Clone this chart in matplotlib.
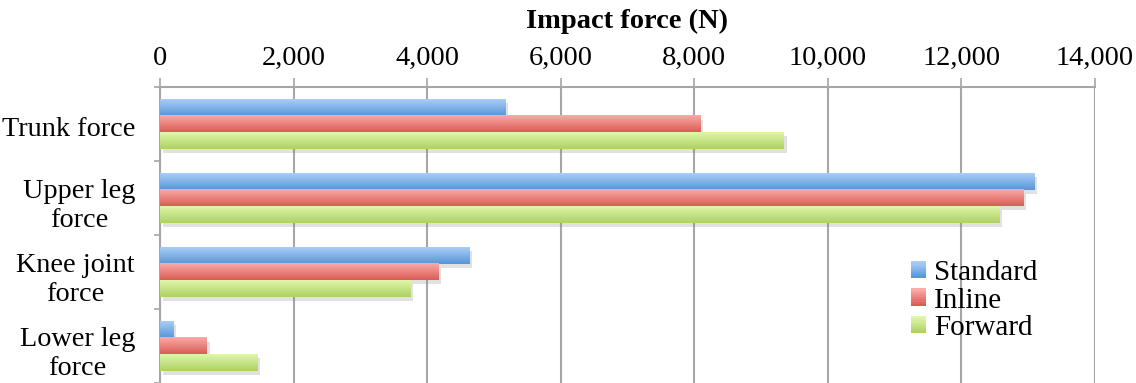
import numpy as np
import matplotlib
matplotlib.use("Agg")
import matplotlib.pyplot as plt
import matplotlib.patheffects as pe
import matplotlib.transforms as mtransforms
from matplotlib.colors import LinearSegmentedColormap
from matplotlib.legend_handler import HandlerPatch
from matplotlib.patches import Patch, Rectangle
from matplotlib.ticker import FuncFormatter

plt.rcParams['font.family'] = ['Liberation Serif', 'DejaVu Serif']

categories = ['Trunk force', 'Upper leg\nforce', 'Knee joint\nforce', 'Lower leg\nforce']
series = ['Standard', 'Inline', 'Forward']
standard = [5170, 13090, 4630, 195]
inline = [8090, 12930, 4165, 700]
forward = [9340, 12570, 3745, 1460]
xticks = [0, 2000, 4000, 6000, 8000, 10000, 12000, 14000]

# (top colour, bottom colour) per series, Excel-style gradient
gradients = [('#a9cdf9', '#5896d6'), ('#faaba8', '#dc5c55'), ('#e0f6a8', '#acd264')]

GRID = '#a6a6a6'
bar_h = 0.223

fig = plt.figure(figsize=(11.36, 3.83), dpi=100)
ax = fig.add_axes([160 / 1136, 0, 935 / 1136, 296 / 383])

grad = np.linspace(0, 1, 64).reshape(-1, 1)
values = [standard, inline, forward]
for s, vals in enumerate(values):
    top, bottom = gradients[s]
    cmap = LinearSegmentedColormap.from_list(series[s], [top, bottom])
    for i, v in enumerate(vals):
        y = i + (s - 1) * bar_h
        ax.barh(y, v, height=bar_h, color=bottom, zorder=2,
                path_effects=[pe.SimplePatchShadow(offset=(2, -3), shadow_rgbFace='#888888', alpha=0.25),
                              pe.Normal()])
        ax.imshow(grad, extent=[0, v, y + bar_h / 2, y - bar_h / 2], origin='upper',
                  aspect='auto', cmap=cmap, zorder=3, interpolation='bilinear')

ax.set_xlim(0, 14000)
ax.set_ylim(3.5, -0.5)
ax.set_aspect('auto')

ax.xaxis.tick_top()
ax.xaxis.set_label_position('top')
ax.set_xticks(xticks)
ax.xaxis.set_major_formatter(FuncFormatter(lambda x, p: f'{x:,.0f}'))
ax.tick_params(axis='x', length=6.5, width=1.2, color=GRID, pad=5, labelsize=20.5)
ax.set_xlabel('Impact force (N)', fontsize=20.5, fontweight='bold', labelpad=13)

ax.set_yticks(range(len(categories)))
ax.set_yticklabels(categories)
ax.set_yticks(np.arange(-0.5, len(categories)), minor=True)
ax.tick_params(axis='y', which='major', length=0, pad=18, labelsize=20.3)
ax.tick_params(axis='y', which='minor', length=4.5, width=1.2, color=GRID)
shift = mtransforms.ScaledTranslation(0, -3 / 100, fig.dpi_scale_trans)
for lab in ax.get_yticklabels():
    lab.set_multialignment('center')
    lab.set_linespacing(1.2)
    lab.set_transform(lab.get_transform() + shift)

ax.xaxis.grid(True, color=GRID, lw=1.5)
ax.set_axisbelow(True)
for side in ['right', 'bottom']:
    ax.spines[side].set_visible(False)
for side in ['top', 'left']:
    ax.spines[side].set_color(GRID)
    ax.spines[side].set_linewidth(1.5)


class GradientHandler(HandlerPatch):
    def create_artists(self, legend, orig_handle, xdescent, ydescent, width, height, fontsize, trans):
        top, bottom = orig_handle.get_label_colors
        cmap = LinearSegmentedColormap.from_list('h', [bottom, top])
        n = 8
        arts = []
        for k in range(n):
            r = Rectangle((-xdescent, -ydescent + height * k / n), width, height / n + 0.3,
                          facecolor=cmap(k / (n - 1)), edgecolor='none', transform=trans)
            arts.append(r)
        return arts


handles = []
for s in range(3):
    h = Patch(facecolor=gradients[s][1], label=series[s])
    h.get_label_colors = gradients[s]
    handles.append(h)

ax.legend(handles=handles, loc='upper left', bbox_to_anchor=(0.803, 0.415), frameon=False,
          fontsize=21, handlelength=0.52, handleheight=0.52, handletextpad=0.28,
          labelspacing=0.05, borderpad=0, borderaxespad=0,
          handler_map={Patch: GradientHandler()})

fig.savefig('out.png', dpi=100)
